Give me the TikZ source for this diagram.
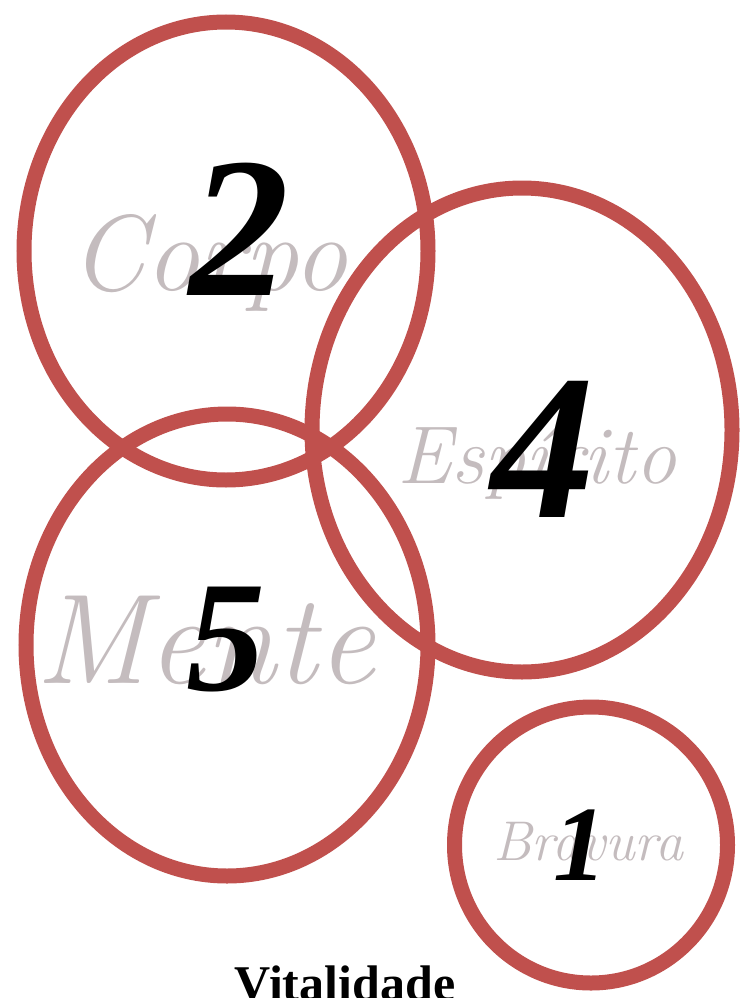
\documentclass[tikz,border=0pt]{standalone}
\usepackage{fontspec}
\setmainfont{Liberation Serif}
\usetikzlibrary{shapes.geometric}
\definecolor{anel}{RGB}{192,80,77}
\definecolor{sombra}{RGB}{196,188,190}
\newcommand{\letra}{\fontfamily{lmr}\itshape}
\tikzset{
  aro/.style={draw=anel, line width=15pt, ellipse, inner sep=0pt},
  palavra/.style={anchor=base west, inner sep=0pt, text=sombra},
  numero/.style={anchor=base, inner sep=0pt}
}

\begin{document}
\begin{tikzpicture}[x=1pt,y=-1pt]
	\useasboundingbox (0,0) rectangle (747,998);
	% os aneis
	\node[aro, minimum width=404pt, minimum height=458pt] (corpo) at (226,251) {};
	\node[aro, minimum width=420pt, minimum height=484pt] (espirito) at (522,430) {};
	\node[aro, minimum width=402pt, minimum height=462pt] (mente) at (227,645) {};
	\node[aro, minimum width=273pt, minimum height=276pt] (bravura) at (591,845) {};
	% palavras
	\node[palavra, font=\letra\fontsize{108}{108}\selectfont] (pcorpo) at (70,290) {Corpo};
	\node[palavra, font=\letra\fontsize{82}{82}\selectfont] (pespirito) at (397,483) {Espírito};
	\node[palavra, font=\letra\fontsize{128}{128}\selectfont] (pmente) at (35,683) {Mente};
	\node[palavra, font=\letra\fontsize{56}{56}\selectfont] (pbravura) at (493,860) {Bravura};
	% numeros
	\node[numero, font=\bfseries\itshape\fontsize{200}{200}\selectfont] (n2) at (239,295) {2};
	\node[numero, font=\bfseries\itshape\fontsize{207}{207}\selectfont] (n4) at (543,517) {4};
	\node[numero, font=\bfseries\itshape\fontsize{158}{158}\selectfont] (n5) at (226,690) {5};
	\node[numero, font=\bfseries\itshape\fontsize{107}{107}\selectfont] (n1) at (580,880) {1};
	\node[anchor=base, inner sep=0pt, font=\bfseries\fontsize{50}{50}\selectfont] (vital) at (345,1000) {Vitalidade};
\end{tikzpicture}
\end{document}
